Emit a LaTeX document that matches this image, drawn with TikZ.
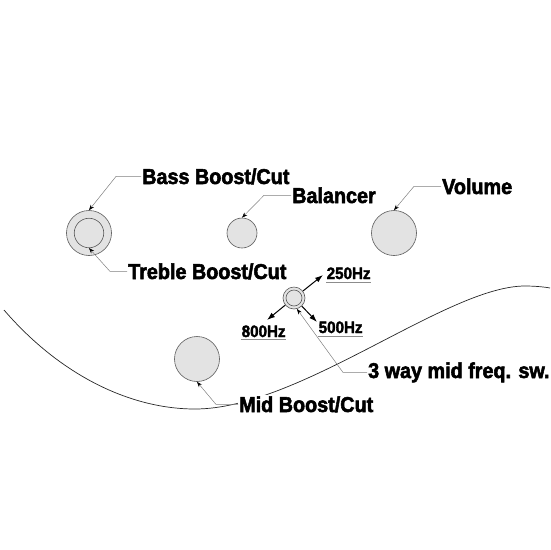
\documentclass[tikz,border=0pt]{standalone}
\usepackage{fontspec}
\newfontfamily\lblfont{Liberation Sans}[FakeStretch=0.92,FakeBold=2.5]
\newfontfamily\hzfont{Liberation Sans}[FakeStretch=0.92,FakeBold=2]
\usetikzlibrary{arrows.meta}
\begin{document}
\begin{tikzpicture}[x=1pt,y=-1pt,
 knob/.style={circle,draw=black!65,fill=black!11,line width=0.6pt,inner sep=0pt},
 lbl/.style={font=\lblfont\bfseries\fontsize{21.5}{24}\selectfont,inner sep=1pt,anchor=base west,fill=white},
 hz/.style={font=\hzfont\bfseries\fontsize{16.5}{18}\selectfont,inner sep=0.5pt,anchor=base west},
 leader/.style={draw=black!50,line width=0.5pt,-{Stealth[length=5.5pt,width=4pt,black]}},
 freq/.style={draw=black,line width=1pt,-{Latex[length=8pt,width=5.5pt]}},
 uline/.style={draw=black!45,line width=0.5pt}]
\useasboundingbox (0,0) rectangle (550,550);
\draw[line width=0.7pt, black!85] (4,310) .. controls (60,375) and (130,409) .. (195,409) .. controls (300,409) and (447,286) .. (525,286) .. controls (535,286) and (545,287) .. (550,288);
% knobs
\node[knob,minimum size=45pt] (bass) at (89,233) {};
\node[knob,minimum size=29.5pt] (treble) at (89,233) {};
\node[knob,minimum size=30pt] (bal) at (242,233) {};
\node[knob,minimum size=45pt] (vol) at (394,233) {};
\node[knob,minimum size=45pt] (mid) at (197,359) {};
\node[knob,minimum size=22pt] (sw) at (294,298) {};
\node[knob,minimum size=16pt] (swin) at (294,298) {};
% labels
\node[lbl] (basslbl) at (141,184) {Bass Boost/Cut};
\node[lbl] (treblbl) at (127,279) {Treble Boost/Cut};
\node[lbl] (ballbl) at (291,203) {Balancer};
\node[lbl] (vollbl) at (441,194) {Volume};
\node[lbl] (midlbl) at (238,412) {Mid Boost/Cut};
\node[lbl] (swlbl) at (367,378) {3 way mid freq. sw.};
% frequency labels
\node[hz] (f250) at (326,279) {250Hz};
\node[hz] (f800) at (241,337) {800Hz};
\node[hz] (f500) at (318,333) {500Hz};
\draw[uline] ([yshift=-3pt]f250.base west) -- ([yshift=-3pt]f250.base east);
\draw[uline] ([yshift=-2.5pt]f800.base west) -- ([yshift=-2.5pt]f800.base east);
\draw[uline] ([yshift=-3pt]f500.base west) -- ([yshift=-3pt]f500.base east);
% leaders
\draw[leader] (basslbl.west) -- ++(-25,0) -- (bass.north);
\draw[leader] (treblbl.west) -- ++(-17,0) -- (treble.south);
\draw[leader] (ballbl.west) -- ++(-27,0) -- (bal.north);
\draw[leader] (vollbl.west) -- ++(-27,0) -- (vol.north);
\draw[leader] (midlbl.west) -- ++(-22,0) -- (mid.south);
\draw[leader] (swlbl.west) -- ++(-24,0) -- (sw.-75);
% frequency arrows
\coordinate (t250) at (323,275);
\coordinate (t800) at (267,320);
\coordinate (t500) at (317,322);
\draw[freq] (sw.38) -- (t250);
\draw[freq] (sw.-141) -- (t800);
\draw[freq] (sw.-46) -- (t500);
\end{tikzpicture}
\end{document}
